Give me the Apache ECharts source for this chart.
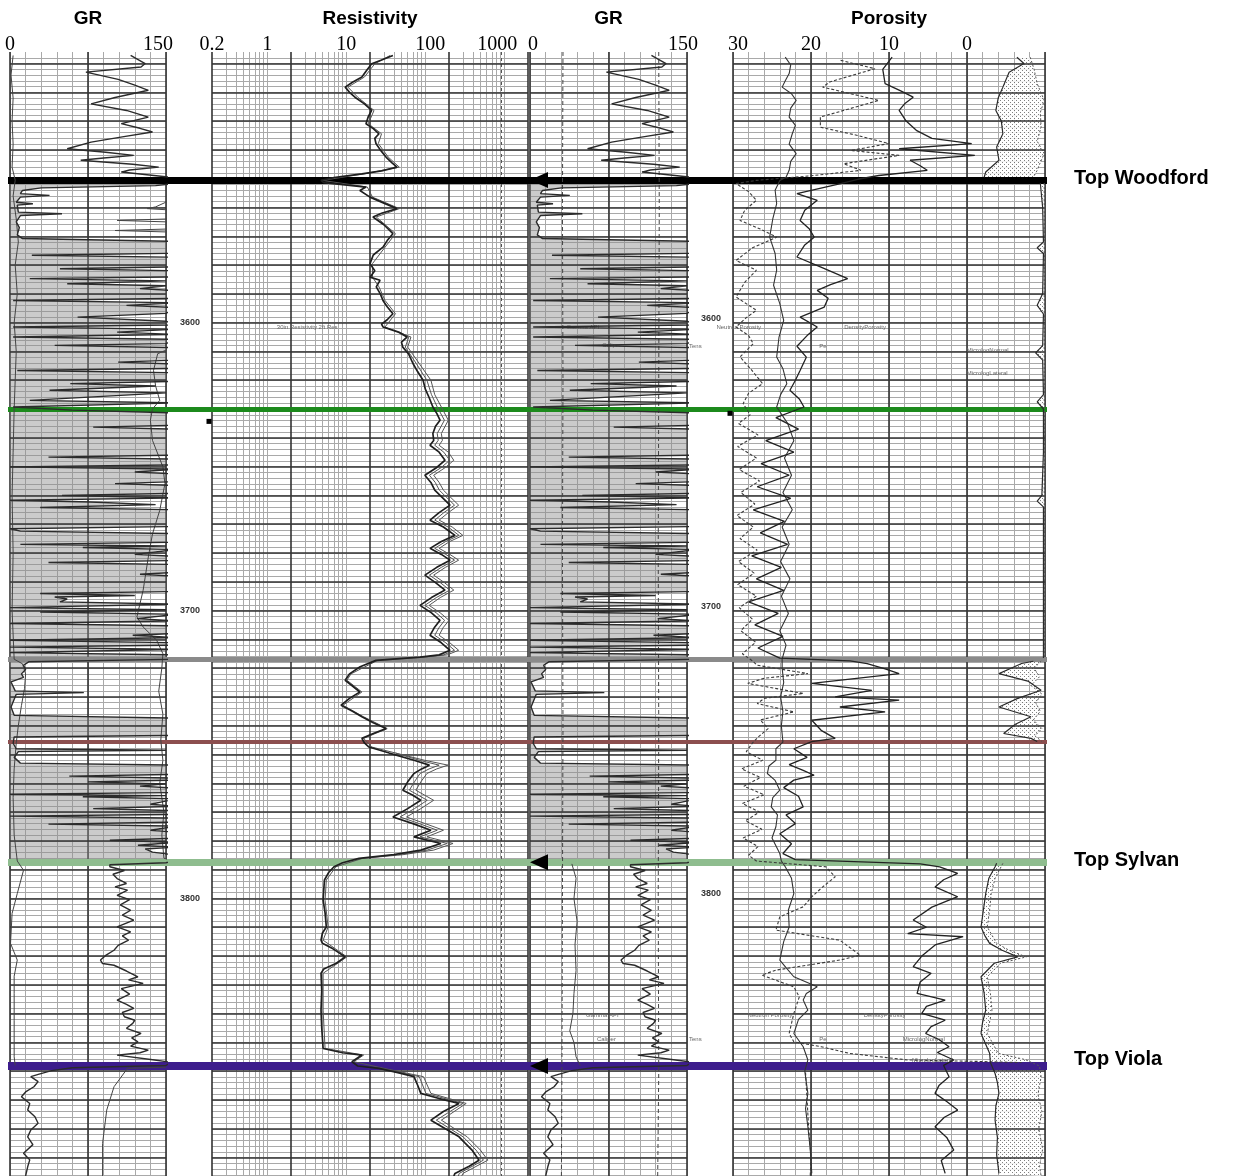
<!DOCTYPE html>
<html><head><meta charset="utf-8"><title>Well log</title>
<script src="https://cdn.jsdelivr.net/npm/echarts@6.0.0/dist/echarts.min.js"></script>
<style>html,body{margin:0;padding:0;background:#fff;}#chart{width:1238px;height:1176px;}</style>
</head><body><div id="chart"></div>
<script>
// ================= DATA =================
const trackTitles = ['GR', 'Resistivity', 'GR', 'Porosity'];
const grTickLabels = [0, 150];
const resTickLabels = [0.2, 1, 10, 100, 1000];
const porTickLabels = [30, 20, 10, 0];
const depthTickLabels = [3600, 3700, 3800];
const depthRange = [3506, 3896.4];

const topNames = ['Top Woodford', 'S1 base', 'S2 base', 'S3 base', 'Top Sylvan', 'Top Viola'];
const topDepths = [3550.5, 3630.1, 3716.9, 3745.7, 3787.4, 3858.2];
const topLabelled = [true, false, false, false, true, true];
const zoneNames = ['S1', 'S2', 'S3', 'S4'];
const zoneDepths = [3588.8, 3663.4, 3727.0, 3763.1];
// depth-track marker squares: [track, depth]
const depthMarkers = [[1, 3634.3], [3, 3631.5]];

// [depth ft, GR API] - gamma ray (same log shown in track 1 and track 3)
const gr = [[3507.2,116],[3508.8,124],[3510.0,130],[3511.2,126],[3513.0,73],[3515.5,104],[3517.5,120],[3519.3,133],[3521.8,101],[3524.0,78],[3526.3,112],[3528.6,133],[3530.9,107],[3532.5,125],[3533.8,137],[3535.5,108],[3537.3,78],[3539.6,55],[3540.8,92],[3541.9,119],[3542.8,90],[3543.6,68],[3545.0,118],[3546.0,143],[3547.0,115],[3547.7,107],[3549.4,152],[3550.4,160],
[3551.6,160],[3552.4,140],[3553.2,30],[3554.1,12],[3555.2,10],[3555.8,38],[3556.4,10],[3558.2,6],[3558.7,22],[3559.2,7],[3561.6,8],[3562.2,50],[3562.8,10],[3565.0,6],[3567.0,9],[3569.5,7],[3570.8,12],[3571.8,160],
[3575.9,160],[3576.6,21],[3577.3,160],[3580.6,160],[3581.3,48],[3582.0,160],[3584.1,158],[3584.7,19],[3585.5,150],[3586.5,55],[3587.2,150],[3588.2,125],[3588.9,160],[3591.6,160],[3592.3,3],[3593.1,160],[3594.0,112],[3594.8,160],[3596.8,150],[3598.1,65],[3599.5,150],[3600.8,160],[3601.5,3],[3602.3,160],[3603.3,103],[3604.1,160],[3605.0,3],[3605.8,160],[3607.3,150],[3607.9,43],[3608.7,160],[3613.0,160],[3613.7,104],[3614.4,160],[3615.9,160],[3616.6,7],[3617.4,160],[3620.4,160],[3621.2,58],[3622.0,140],[3623.5,38],[3624.4,150],[3627.0,19],[3627.9,160],[3629.3,3],[3630.4,60],[3631.4,160],
[3635.6,160],[3636.3,80],[3637.0,160],[3646.0,160],[3646.7,37],[3647.4,160],[3649.4,160],[3650.1,0],[3650.9,160],[3651.9,120],[3652.6,160],[3655.2,160],[3655.9,101],[3656.6,160],[3659.3,160],[3660.0,50],[3660.9,160],[3661.7,0],[3662.3,77],[3663.2,140],[3664.2,29],[3665.0,160],[3670.8,160],[3671.6,0],[3672.4,10],[3673.3,160],[3676.3,160],[3677.0,10],[3677.6,150],[3678.1,70],[3678.8,160],[3680.5,120],[3681.2,160],[3682.6,160],[3683.3,37],[3684.0,160],[3686.7,160],[3687.4,125],[3688.1,160],[3693.4,160],[3694.1,29],[3694.8,120],[3695.3,43],[3696.0,55],[3697.0,48],[3697.8,160],[3698.3,160],[3699.0,0],[3699.7,150],[3700.5,29],[3701.3,160],[3702.8,122],[3703.6,160],[3704.5,0],[3705.3,160],[3707.9,160],[3708.6,118],[3709.4,160],[3710.3,0],[3711.2,160],[3712.0,160],[3712.7,0],[3713.5,160],[3714.0,160],[3714.6,0],[3715.4,160],[3716.9,160],
[3717.3,160],[3717.8,18],[3719.0,13],[3720.5,15],[3722.0,11],[3723.2,13],[3724.8,1],[3727.9,5],[3728.5,71],[3729.1,6],[3733.5,1],[3736.4,4],[3737.4,160],[3743.4,160],[3743.9,4],[3746.1,3],[3748.0,6],[3748.5,150],[3749.0,8],[3751.0,4],[3753.0,10],[3753.7,160],[3756.9,160],[3757.5,57],[3758.2,160],[3758.9,160],[3759.5,75],[3760.2,150],[3761.0,125],[3761.7,160],[3763.2,160],[3763.8,0],[3764.3,150],[3764.7,70],[3765.4,160],[3767.3,135],[3768.0,160],[3768.8,80],[3769.5,160],[3770.8,160],[3771.4,0],[3772.1,160],[3773.5,160],[3774.2,37],[3774.9,160],[3776.3,135],[3777.0,160],[3779.1,160],[3779.8,96],[3780.5,160],[3781.5,123],[3782.2,160],[3782.8,130],[3783.9,137],[3785.0,160],[3786.8,160],
[3787.6,150],[3788.3,96],[3789.0,96],[3790.3,110],[3791.6,99],[3793.1,103],[3794.8,112],[3796.0,101],[3797.1,113],[3798.9,103],[3800.4,115],[3802.2,106],[3804.1,116],[3805.8,108],[3807.5,119],[3809.9,103],[3811.6,116],[3813.0,108],[3814.5,114],[3816.3,104],[3818.0,100],[3819.8,92],[3821.4,87],[3822.6,89],[3823.2,100],[3825.2,112],[3827.2,123],[3828.3,114],[3829.5,128],[3831.3,107],[3833.2,115],[3835.3,103],[3836.8,112],[3838.2,119],[3839.6,108],[3841.1,110],[3842.3,120],[3843.4,118],[3845.1,112],[3846.9,126],[3848.4,117],[3849.8,123],[3851.3,116],[3852.7,133],[3853.6,125],[3854.4,103],[3856.1,139],[3856.9,155],[3858.0,150],[3858.8,60],[3859.8,40],[3861.0,28],[3861.9,20],[3863.6,27],[3865.4,23],[3867.2,15],[3868.9,11],[3871.2,19],[3873.5,17],[3875.8,24],[3878.1,27],[3880.4,20],[3882.8,17],[3885.5,22],[3888.5,13],[3890.8,19],[3893.2,17],[3896.4,15]];

// track 1 caliper and tension (GR scale units)
const cal1 = [[3507.2,3],[3514,1],[3522,3],[3530,2],[3538,3],[3546,2],[3550.5,5],[3556,3],[3564,6],[3572,8],[3580,5],[3590,7],[3600,4],[3610,6],[3620,5],[3630,4],[3645,3],[3660,2],[3680,3],[3700,2],[3716.9,4],[3718.5,12],[3722,15],[3727,14],[3733,11],[3740,8],[3746,6],[3755,4],[3765,3],[3778,4],[3787,7],[3790.2,13],[3798.3,7],[3805.2,2],[3815.6,0.5],[3821.4,7],[3827,4],[3833,4],[3842.3,4],[3855,4],[3858,5]];
const ten1 = [[3556.5,160],[3559.8,140],[3560.4,132],[3561.0,160],[3563.9,160],[3564.5,103],[3565.1,160],[3567.4,160],[3568.0,101],[3568.6,160],null,[3608,160],[3610.8,142],[3616.6,138],[3622,140],[3627,144],[3630,137],[3633.9,135],[3640.9,137],[3650.1,147],[3655.9,149],[3665.2,144],[3673.4,137],[3681.4,133],[3693.0,128],[3702.2,122],[3705.7,128],[3710.3,141],[3715.0,147],[3720,146],[3728,143],[3736,147],[3745,145],[3752,147],[3760,144],[3770,148],[3778,146],[3786,148],[3787.5,160],null,[3858.6,150],[3859.0,113],[3865.4,100],[3873.5,93],[3885.1,89],[3896.4,89]];
// track 3 caliper (dashed), tension (dashed), caliper solid
const cal3 = [[3506,31.5],[3560,31],[3620,31.5],[3680,31],[3740,31.5],[3800,31],[3860,30.5],[3896.4,30]];
const ten3 = [[3506,123],[3560,123.5],[3620,123],[3680,122.5],[3740,123],[3800,122.5],[3860,123],[3896.4,122]];
const cal3b = [[3788.0,40],[3793,44],[3800,42],[3808,45],[3816,43],[3825,44],[3833,42],[3840,41],[3846,38],[3850,42],[3855,44],[3858,48]];

// resistivity [depth, ohm.m]
const resDeep = [[3507.2,39],[3508.8,28],[3510.1,21],[3512.5,18],[3514.7,15.8],[3516.5,12],[3518.2,9.7],[3520,11],[3521.7,12.9],[3524,17],[3526.3,21],[3528.5,19],[3530.9,17.8],[3532.6,22],[3534.4,26],[3536,23],[3537.8,23.8],[3540,27],[3542.5,31.9],[3544.5,38],[3546.0,44],[3547.3,28],[3548.3,15.8],[3549.6,7],[3550.6,4.8],[3551.4,5.2],[3552.9,17.8],[3554.1,14.9],[3556.4,20],[3558.5,30],[3560.4,44],[3562,28],[3563.3,21.8],[3566,30],[3569.1,39],[3571.5,33],[3573.8,29.2],[3576.5,22],[3579.5,20],[3582,23],[3584.2,20],[3585.3,26.8],[3587.6,24],[3590,27],[3592.3,29.2],[3594.5,33],[3596.9,39],[3599,33],[3600.5,28],[3601.5,29.2],[3603.2,45],[3605.0,58.8],[3606.8,50],[3608.5,52],[3611,62],[3614.2,70],[3617,80],[3620.0,94],[3623,100],[3626,112],[3629.3,125],[3631.5,140],[3633.9,154],[3636,135],[3638.5,125],
[3640.9,128],[3642.6,115],[3645,150],[3647.8,178],[3650.3,140],[3653.0,99],[3655.5,118],[3658.2,132],[3660.8,165],[3663.4,206],[3666,150],[3668.6,115],[3671,170],[3673.9,238],[3676,160],[3678.4,115],[3680.5,160],[3682.5,206],[3685,140],[3687.7,99],[3690.3,135],[3692.9,178],[3695.5,120],[3698.2,86],[3700.8,120],[3703.4,154],[3706,130],[3708.6,115],[3711.2,160],[3713.8,206],[3715.4,150],[3716.2,86],
[3717.3,23.8],[3719.5,15],[3722,11],[3724.2,9.7],[3726.2,12],[3728.3,14.9],[3730.5,11],[3732.9,8.6],[3735,12],[3736.9,15.8],[3739,22],[3741.0,31.9],[3742.7,22],[3744.4,15.8],[3746.0,17],[3747.4,19.4],[3749.5,35],[3752.0,72],[3753.7,113],[3755,90],[3756.6,72],[3759.5,60],[3762.4,52],[3764,68],[3765.9,88],[3768.8,60],[3771.7,39],[3774,70],[3776.3,118],[3778.6,72],[3780.9,158],[3783.2,88],[3784.8,40],[3786.1,14.5],
[3787.6,9],[3789.0,7.0],[3791,6],[3793.6,5.3],[3797,5.2],[3800.6,5.1],[3805,5.4],[3809.9,5.6],[3812,5.0],[3814.5,4.8],[3815.6,5.0],[3817.5,6.8],[3820.3,9.7],[3822.5,7.5],[3824.5,5.2],[3826.0,4.8],[3832,4.9],[3838.8,4.8],[3845,4.9],[3852.1,5.1],[3853.6,9],[3854.4,15.8],[3856.7,11.8],[3858.2,14],[3859.0,26],[3860.5,45],[3861.9,72],[3864.8,80],[3867.7,88],[3869.5,150],[3871.2,268],[3874,170],[3877.0,118],[3880,180],[3882.8,268],[3885,320],[3887.4,391],[3890.9,480],[3893,360],[3895.5,238],[3896.4,230]];
const resShal = [[3507.2,36],[3510.1,23],[3514.7,17],[3518.2,10.5],[3521.7,14],[3526.3,22.5],[3530.9,19],[3534.4,28],[3537.8,25.5],[3542.5,34],[3546.0,47],[3548.3,17],[3550.6,5.0],[3552.9,18.5],[3556.4,21.5],[3560.4,47],[3563.3,24],[3569.1,42],[3573.8,31],[3579.5,21.5],[3584.2,21.5],[3587.6,26],[3592.3,31],[3596.9,42],[3601.5,31],[3605.0,66],[3608.5,60],[3614.2,84],[3620.0,118],[3625,132],[3629.3,160],[3633.9,196],[3638.5,160],[3640.9,165],[3642.6,150],[3645,196],[3647.8,230],[3650.3,180],[3653.0,128],[3655.5,150],[3658.2,170],[3660.8,212],[3663.4,265],[3666,196],[3668.6,150],[3671,220],[3673.9,300],[3676,205],[3678.4,150],[3680.5,205],[3682.5,265],[3685,180],[3687.7,128],[3690.3,175],[3692.9,230],[3695.5,155],[3698.2,112],[3700.8,155],[3703.4,200],[3706,168],[3708.6,150],[3711.2,205],[3713.8,265],[3715.4,190],[3716.2,95],[3717.3,25],[3722,11.5],[3724.2,10.2],[3728.3,15.8],[3732.9,9.1],[3736.9,16.6],[3741.0,33],[3744.4,16.6],[3747.4,21],[3750,50],[3752.0,98],[3753.7,194],[3755,140],[3756.6,105],[3759.5,88],[3762.4,76],[3765.9,128],[3768.8,88],[3771.7,58],[3774,100],[3776.3,170],[3778.6,105],[3780.9,225],[3783.2,128],[3784.8,52],[3786.1,16],[3789.0,7.4],[3793.6,5.6],[3800.6,5.4],[3809.9,5.9],[3814.5,5.1],[3820.3,10.2],[3826.0,5.1],[3838.8,5.1],[3852.1,5.4],[3854.4,16.6],[3856.7,12.5],[3859.0,30],[3861.9,95],[3867.7,118],[3871.2,330],[3877.0,160],[3882.8,340],[3887.4,500],[3890.9,620],[3895.5,300],[3896.4,290]];
const resMed = [[3603.2,47],[3605.0,62],[3608.5,56],[3614.2,77],[3620.0,105],[3625,120],[3629.3,142],[3633.9,175],[3638.5,142],[3640.9,146],[3642.6,132],[3645,172],[3647.8,204],[3650.3,160],[3653.0,113],[3655.5,134],[3658.2,151],[3660.8,188],[3663.4,235],[3666,172],[3668.6,132],[3671,195],[3673.9,268],[3676,182],[3678.4,132],[3680.5,182],[3682.5,235],[3685,160],[3687.7,113],[3690.3,155],[3692.9,204],[3695.5,138],[3698.2,99],[3700.8,138],[3703.4,176],[3706,149],[3708.6,132],[3711.2,182],[3713.8,235],[3715.4,170],[3716.2,90],null,[3749.5,42],[3752.0,84],[3753.7,150],[3755,112],[3756.6,86],[3759.5,73],[3762.4,63],[3765.9,106],[3768.8,73],[3771.7,48],[3774,84],[3776.3,142],[3778.6,86],[3780.9,190],[3783.2,106],[3784.8,46],null,[3859.0,28],[3861.9,84],[3867.7,102],[3871.2,300],[3877.0,138],[3882.8,302],[3887.4,440],[3890.9,545],[3895.5,270],[3896.4,262]];

// porosity track [depth, porosity %]
const nphi = [[3507.8,23.3],[3510.5,22.6],[3513.5,22.8],[3516,23.3],[3518.2,23.7],[3520.5,22.5],[3522.8,21.9],[3525.5,22.6],[3528.6,22.8],[3531.5,22.0],[3534.4,22.4],[3538,22.8],[3541.3,21.9],[3544,22.6],[3547.1,22.8],[3549.5,23.2],[3550.6,24.0],[3554,24.6],[3558.7,24.4],[3564,24.9],[3570.3,25.3],[3576,24.6],[3581.8,24.4],[3587,24.8],[3593.4,24.0],[3599.2,23.5],[3605,24.1],[3611.9,24.4],[3616,23.6],[3621.2,23.1],[3625,23.9],[3629.3,24.4],[3635,23.0],[3641,22.2],[3647,23.4],[3653,22.5],[3659,23.6],[3665,22.4],[3671,23.7],[3677,22.8],[3683,23.9],[3689,22.7],[3695,23.8],[3701,22.9],[3707,24.0],[3712,23.2],[3716.9,23.7],[3720,23.7],[3725,23.5],[3730,23.9],[3735,23.6],[3740,23.8],[3745.7,23.6],[3748,24.5],[3752.0,24.5],[3754,25.4],[3756.6,25.6],[3759,24.6],[3762.4,24.0],[3765,24.9],[3768.2,25.1],[3771,24.3],[3775.1,24.5],[3779,25.0],[3784.4,24.0],[3787,23.8],[3789.0,23.3],[3793,22.5],[3798.3,22.2],[3804,22.9],[3809.9,22.8],[3815,23.5],[3821.4,24.0],[3824,23.2],[3827.2,22.2],[3830.7,19.2],[3833,20.6],[3835.3,21.0],[3838.8,20.4],[3842,21.6],[3846.9,22.2],[3851.5,21.0],[3856.1,20.4],[3860,20.8],[3867.7,20.4],[3873,20.7],[3879.3,20.4],[3887,20.1],[3895.5,19.9]];
const pe = [[3508.9,16.2],[3511.8,11.8],[3516.4,17.6],[3518.2,18.5],[3522.8,11.3],[3528.6,18.8],[3532.1,18.8],[3535,14],[3537.8,10.0],[3540.2,14.9],[3541.9,8.7],[3544.8,15.8],[3547.1,13.6],[3549.0,20.0],[3550.6,27],[3551.7,29.6],[3554.5,28.0],[3557.5,27.0],[3561,28.5],[3564.5,29.1],[3567.5,26.5],[3570.3,24.4],[3574,27.5],[3578.4,29.6],[3581.8,27.0],[3586,28.5],[3591.1,29.6],[3595.7,27.0],[3598.5,28.4],[3601.5,29.6],[3604.5,28.0],[3607.3,27.4],[3611.9,29.1],[3616.5,27.6],[3621.2,26.2],[3624.5,28.0],[3628.1,28.7],[3632,27.8],[3635,29.3],[3639,26.8],[3643,29.4],[3647,27.0],[3651,29.2],[3655,26.6],[3659,29.0],[3663,27.2],[3667,29.5],[3671,27.4],[3675,29.1],[3679,26.9],[3683,29.3],[3687,27.3],[3691,29.4],[3695,27.0],[3699,29.2],[3703,27.5],[3707,29.0],[3711,27.1],[3715,28.8],[3717.5,27.5],[3719.0,26.9],[3721.9,20.4],[3723.5,26],[3725.3,28.1],[3728.8,21.0],[3730.5,26],[3732.3,26.9],[3735.2,22.2],[3738,26.5],[3741,25.5],[3744,26.8],[3746,27.5],[3749,28.3],[3752,26.2],[3755,28.9],[3758,26.5],[3761,28.6],[3764,26.0],[3767,28.8],[3770,26.6],[3773,28.4],[3776,26.3],[3779,28.7],[3782,26.8],[3785,28.0],[3787,27.0],[3789.0,18.1],[3792.5,16.9],[3796,18.5],[3799.4,19.9],[3802.9,21.0],[3806.4,24.0],[3811.0,24.5],[3814.5,16.3],[3819.7,13.7],[3821.4,16.3],[3824.9,24.5],[3826.6,26.3],[3830.7,22.2],[3834.2,21.5],[3839.9,22.2],[3846.9,22.8],[3849.8,22.2],[3851.5,18.7],[3853.8,15.1],[3856.1,7.6],[3856.6,-1.3],[3857.0,-7.0],null,[3860.5,20.7],[3870,20.5],[3880,20.3],[3890,20.0],[3896.4,20.1]];
const dphi = [[3507.8,9.6],[3512,10.8],[3517.0,10.5],[3519.5,8.5],[3521.7,6.9],[3524,8.0],[3526.3,8.7],[3530,7.8],[3533.2,6.5],[3536,4.5],[3537.8,-0.6],[3539.6,8.7],[3541.9,-1.0],[3543.6,7.3],[3545.5,6.0],[3547.1,5.1],[3548.9,11.3],[3550.2,14],[3551.7,16.2],[3555.2,21.8],[3557.5,19.2],[3561,20.8],[3564.5,21.4],[3567.5,20.2],[3570.3,19.6],[3573,20.8],[3577.2,21.8],[3581,18.5],[3584.7,15.3],[3586.8,17.5],[3588.8,19.2],[3591.5,17.8],[3594.6,18.3],[3596.5,20.0],[3598.1,21.4],[3601.5,19.2],[3604.5,20.5],[3608.2,21.8],[3612,20.6],[3616.6,21.4],[3620,22.0],[3623.5,22.7],[3626.5,21.5],[3629.3,20.9],[3633,24.5],[3637,21.6],[3641,25.8],[3645,22.2],[3649,26.4],[3653,22.8],[3657,26.9],[3661,22.6],[3665,27.4],[3669,23.4],[3673,26.5],[3677,23.0],[3681,27.6],[3685,23.8],[3689,27.0],[3693,23.5],[3697,28.0],[3701,24.2],[3705,27.2],[3709,23.6],[3713,26.8],[3716.5,24.0],[3717.5,15],[3718.4,12.8],[3720.3,10.5],[3721.9,8.7],[3725.3,19.9],[3727.7,12.2],[3730.0,16.9],[3731.1,8.7],[3733.5,16.3],[3735.2,10.5],[3738.1,19.9],[3741.6,18.7],[3744.4,16.9],[3745.5,19.9],[3748,22.2],[3751,20.5],[3753.5,22.8],[3755.5,21.0],[3757.2,19.6],[3758.9,22.2],[3761.5,23.5],[3764.5,21.6],[3768.2,21.0],[3771,23.2],[3774,22.0],[3777.5,24.0],[3781,22.5],[3784.4,23.6],[3786.5,22.0],[3788.0,6],[3789.0,3.5],[3791.3,1.2],[3793.5,3.0],[3796.0,4.1],[3799.4,1.2],[3803,4.5],[3807.5,6.9],[3810,5.2],[3812.2,7.6],[3813.3,0.5],[3816,4.0],[3820,5.8],[3823.7,6.9],[3826.0,4.6],[3829,6.0],[3833.0,6.4],[3835.3,2.8],[3837.5,5.2],[3839.9,5.8],[3842.3,2.8],[3844.5,4.6],[3846.9,5.3],[3849,3.6],[3851.5,2.3],[3853.5,3.8],[3856.1,1.7],[3858,3.0],[3861.9,2.3],[3865,3.6],[3867.7,4.1],[3870.5,2.6],[3873.5,1.2],[3876,2.9],[3879.3,4.1],[3883,2.6],[3887.4,1.7],[3891,3.3],[3895.5,2.8]];
const micrologNormal = [[3507.8,-6.4],[3510,-7.3],[3513,-5.4],[3518.2,-4.6],[3522,-4.0],[3526.3,-3.7],[3530,-4.4],[3534.4,-4.6],[3539,-3.8],[3543.6,-4.1],[3547.7,-2.4],[3549.5,-2.2],null,[3551.5,-9.4],[3560,-9.7],[3572,-9.8],[3574,-9.0],[3576,-9.8],[3590,-9.7],[3594,-9.0],[3597,-9.8],[3608,-9.7],[3610.5,-8.8],[3613,-9.7],[3625,-9.8],[3627.5,-9.0],[3630,-9.8],[3645,-9.8],[3660,-9.6],[3662,-9.0],[3664,-9.8],[3690,-9.8],[3716.5,-9.8],null,[3717.6,-8.5],[3718.4,-7.0],[3720.2,-5.5],[3721.9,-4.1],[3724.5,-7.8],[3727.7,-9.5],[3730.5,-6.5],[3733.5,-4.1],[3736.9,-8.2],[3739.5,-6.2],[3742.7,-4.7],[3744.4,-8.2],[3745.5,-9.0],null,[3787.8,-3.8],[3789.0,-3.6],[3793,-2.8],[3798.3,-2.4],[3804,-2.1],[3809.9,-1.8],[3813,-2.3],[3815.6,-2.9],[3818,-4.5],[3820.3,-6.5],[3822.5,-3.5],[3827.2,-1.8],[3833,-2.2],[3838.8,-2.4],[3843,-2.0],[3846.9,-1.8],[3850,-2.3],[3853.8,-2.9],[3857,-3.0],[3860.8,-3.6],[3864,-3.9],[3867.7,-4.1],[3872,-3.7],[3877.0,-3.6],[3883,-3.9],[3889,-3.8],[3895.5,-4.1]];
const micrologLateral = [[3507.8,-8.1],[3512,-8.6],[3517.0,-9.0],[3522.8,-9.9],[3527,-9.4],[3532,-9.5],[3537,-9.0],[3541.3,-9.9],[3545,-9.3],[3547.1,-9.0],[3549.5,-8.5],null,[3551.5,-9.9],[3716.5,-9.9],null,[3717.6,-9.5],[3720,-8.6],[3723,-9.3],[3726,-8.2],[3729,-9.6],[3732,-8.8],[3735,-9.4],[3738,-8.5],[3741,-9.6],[3743.5,-8.7],[3745.5,-9.6],null,[3787.8,-4.6],[3793,-3.6],[3798.3,-3.1],[3804,-2.9],[3809.9,-2.6],[3815.6,-3.8],[3818,-5.4],[3820.3,-7.6],[3822.5,-4.3],[3827.2,-2.6],[3833,-3.0],[3838.8,-3.2],[3846.9,-2.6],[3853.8,-4.0],[3856,-7.5],[3858.2,-9.3],[3862,-9.5],[3868,-9.1],[3874,-9.6],[3880,-9.2],[3887,-9.7],[3893,-9.3],[3896.4,-9.5]];

// curve annotations: text, track index, depth, anchor value, side of anchor the text sits on
const annoText  = ['30in Resistivity 2ft Res','Gamma API','Caliper','Tens','Neutron Porosity','DensityPorosity','Pe','MicrologNormal','MicrologLateral','Gamma API','Caliper','Tens','Neutron Porosity','DensityPorosity','Pe','MicrologNormal','MicrologLateral'];
const annoTrack = [1,2,2,2,3,3,3,3,3,2,2,2,3,3,3,3,3];
const annoDepth = [3601.6,3601.6,3607.9,3608.2,3601.6,3601.6,3608.2,3609.6,3617.6,3840.5,3848.8,3848.8,3840.5,3840.5,3848.8,3848.8,3856.1];
const annoValue = [1.25,33,67,150,26.4,16.0,19.2,0.3,0.3,51.6,62,150,22.4,13.5,19.2,8.5,7.3];
const annoSide  = ['right','right','right','right','left','right','right','right','right','right','right','right','left','right','right','right','right'];

// ================= STYLE / LAYOUT =================
const SANS = 'Liberation Sans', SERIF = 'Liberation Serif';
const gridBoxes = [[10,156],[212,316],[530,157],[733,312],[8,1039]];
const topStyle = [{c:'#000000',w:7},{c:'#1c8a1c',w:5},{c:'#8a8a8a',w:5},{c:'#8c4f4f',w:4},{c:'#8fbd8f',w:7},{c:'#3d1d8c',w:8}];
const minorGrid = '#a9a9a9', majorGrid = '#333333';

const pat = document.createElement('canvas'); pat.width = 4; pat.height = 4;
(function(){ const c = pat.getContext('2d'); c.fillStyle = '#ffffff'; c.fillRect(0,0,4,4); c.fillStyle = '#6a6a6a'; c.fillRect(0,0,1,1); c.fillRect(2,2,1,1); })();

const majorDepths = [];
for (let d = 3510; d < depthRange[1]; d += 10) majorDepths.push(d);
const logGridValues = [];
for (let e = -1; e <= 3; e++) for (let k = 1; k <= 9; k++) { const v = +(k * Math.pow(10, e)).toPrecision(6); if (v >= 0.2 && v <= 2000) logGridValues.push(v); }
const isLogMajor = v => [0.2, 2, 20, 200, 2000].indexOf(v) >= 0;

const toXY = arr => arr.map(p => p ? [p[1], p[0]] : ['-', '-']);
function segments(arr) { const out = [[]]; arr.forEach(p => { if (p) out[out.length-1].push(p); else out.push([]); }); return out.filter(s => s.length); }

const grid = gridBoxes.map(b => ({left:b[0], width:b[1], top:52, bottom:0, containLabel:false, outerBoundsMode:'none'}));

function yAx(gi, showLabels, vAlign, margin) {
  return {type:'value', gridIndex:gi, inverse:true, min:depthRange[0], max:depthRange[1], interval:2,
    axisLine:{show:false}, axisTick:{show:false},
    axisLabel: showLabels ? {show:true, margin:margin, fontSize:9, fontWeight:'bold', fontFamily:SANS, color:'#333', verticalAlign:vAlign,
      formatter: v => depthTickLabels.indexOf(v) >= 0 ? String(v) : ''} : {show:false},
    splitLine: gi === 4 ? {show:false} : {show:true, showMinLine:false, lineStyle:{color:minorGrid, width:1}}
  };
}
const nameStyle = {fontFamily:SANS, fontWeight:'bold', fontSize:19, color:'#000'};
const numFont = {fontFamily:SERIF, fontSize:20, color:'#000'};
// rich styles nudge individual tick numbers to where the original print puts them
const numRich = {
  n:  Object.assign({}, numFont),
  l6: Object.assign({padding:[0,0,0,6]}, numFont),
  l10:Object.assign({padding:[0,0,0,10]}, numFont),
  r8: Object.assign({padding:[0,8,0,0]}, numFont),
  r14:Object.assign({padding:[0,14,0,0]}, numFont),
  r16:Object.assign({padding:[0,16,0,0]}, numFont)
};
function numLabel(fmt) { return Object.assign({show:true, margin:-3, rich:numRich, formatter:fmt}, numFont); }
function grAxes(gi, title, nudge) {
  return [
    {type:'value', gridIndex:gi, min:0, max:150, interval:15, position:'top', name:title, nameLocation:'middle', nameGap:24, nameTextStyle:nameStyle,
     axisLine:{show:false}, axisTick:{show:false},
     axisLabel:numLabel(v => grTickLabels.indexOf(v) >= 0 ? '{' + nudge[grTickLabels.indexOf(v)] + '|' + v + '}' : ''),
     splitLine:{show:true, lineStyle:{color:minorGrid, width:1}}},
    {type:'value', gridIndex:gi, min:0, max:150, interval:75, position:'bottom', axisLine:{show:false}, axisTick:{show:false}, axisLabel:{show:false},
     splitLine:{show:true, lineStyle:{color:majorGrid, width:1.6}}}
  ];
}
const resNudge = ['n', 'n', 'n', 'l10', 'r14'];
const porNudge = ['l10', 'n', 'n', 'n'];
const xAxis = [].concat(
  grAxes(0, trackTitles[0], ['n', 'r16']),
  [{type:'log', logBase:10, gridIndex:1, min:0.2, max:2000, position:'top', name:trackTitles[1], nameLocation:'middle', nameGap:24, nameTextStyle:nameStyle,
    axisLine:{show:false}, axisTick:{show:false}, splitLine:{show:false}, minorSplitLine:{show:false},
    axisLabel:numLabel(v => { const i = resTickLabels.findIndex(t => Math.abs(v - t) / t < 0.01); return i >= 0 ? '{' + resNudge[i] + '|' + resTickLabels[i] + '}' : ''; })}],
  grAxes(2, trackTitles[2], ['l6', 'r8']),
  [{type:'value', gridIndex:3, min:-10, max:30, interval:2, inverse:true, position:'top', name:trackTitles[3], nameLocation:'middle', nameGap:24, nameTextStyle:nameStyle,
    axisLine:{show:false}, axisTick:{show:false},
    axisLabel:numLabel(v => { const i = porTickLabels.indexOf(v); return i >= 0 ? '{' + porNudge[i] + '|' + v + '}' : ''; }),
    splitLine:{show:true, lineStyle:{color:minorGrid, width:1}}},
   {type:'value', gridIndex:3, min:-10, max:30, interval:10, inverse:true, position:'bottom', axisLine:{show:false}, axisTick:{show:false}, axisLabel:{show:false},
    splitLine:{show:true, lineStyle:{color:majorGrid, width:1.6}}},
   {type:'value', gridIndex:4, min:0, max:1, show:false}]
);
const yAxis = [yAx(0,false), yAx(1,true,'middle',12), yAx(2,false), yAx(3,true,'bottom',12), yAx(4,false)];
// x axis index for each track's main axis, and each track's left-edge value
const trackX = [0, 2, 3, 5];
const trackLeftValue = [0, 0.2, 0, 30];

function majorLines(ti) {
  return {type:'line', xAxisIndex:trackX[ti], yAxisIndex:ti, data:[], silent:true, z:3, animation:false,
    markLine:{silent:true, animation:false, symbol:['none','none'], label:{show:false},
      lineStyle:{color:majorGrid, width:1.6, type:'solid'}, data: majorDepths.map(d => ({yAxis:d}))}};
}
function curve(ti, arr, color, width, type, z) {
  return {type:'line', xAxisIndex:trackX[ti], yAxisIndex:ti, data:toXY(arr), showSymbol:false, symbol:'none', connectNulls:false,
    lineStyle:{color:color, width:width, type:type || 'solid'}, z:z || 5, silent:true, animation:false, clip:true};
}
function polySeries(ti, polys, style, z) {
  return {type:'custom', xAxisIndex:trackX[ti], yAxisIndex:ti, data:[[0, 3600]], silent:true, animation:false, clip:true, z:z,
    renderItem: (params, api) => ({type:'group', children: polys.map(pts => ({type:'polygon', shape:{points: pts.map(p => api.coord(p))}, style:style}))})};
}
function grFillPolys() {
  const a = topDepths[0], b = topDepths[4];
  const pts = gr.filter(p => p[0] >= a && p[0] <= b).map(p => [Math.min(p[1], 150), p[0]]);
  return [[[0, a]].concat(pts, [[0, b]])];
}
function micrologPolys() {
  const n = segments(micrologNormal), l = segments(micrologLateral), out = [];
  for (let i = 0; i < Math.min(n.length, l.length); i++) {
    out.push(n[i].map(p => [p[1], p[0]]).concat(l[i].slice().reverse().map(p => [p[1], p[0]])));
  }
  return out;
}
function annotations(ti) {
  const data = [];
  annoText.forEach((t, i) => { if (annoTrack[i] === ti) data.push({name:t, coord:[annoValue[i], annoDepth[i]],
    label:{position:annoSide[i], distance: annoSide[i] === 'left' ? 0 : 2}}); });
  return {type:'line', xAxisIndex:trackX[ti], yAxisIndex:ti, data:[], silent:true, z:8, animation:false,
    markPoint:{silent:true, animation:false, symbol:'circle', symbolSize:0,
      label:{show:true, position:'right', distance:0, formatter:'{b}', fontSize:6, fontFamily:SANS, color:'#666'}, data:data}};
}
function markerSquares(ti) {
  return {type:'line', xAxisIndex:trackX[ti], yAxisIndex:ti, data:[], silent:true, z:9, animation:false,
    markPoint:{silent:true, animation:false, symbol:'rect', symbolSize:5, symbolOffset:[-3,0], itemStyle:{color:'#000'}, label:{show:false},
      data: depthMarkers.filter(m => m[0] === ti).map(m => ({coord:[trackLeftValue[ti], m[1]]}))}};
}

const series = [
  // ---- track 1 GR ----
  polySeries(0, grFillPolys(), {fill:'rgba(140,140,140,0.45)', stroke:'none'}, 1),
  majorLines(0),
  curve(0, cal1, '#444', 1),
  curve(0, ten1, '#444', 1),
  curve(0, gr, '#2b2b2b', 1.4),
  // ---- track 2 Resistivity ----
  {type:'line', xAxisIndex:2, yAxisIndex:1, data:[], silent:true, z:2, animation:false,
   markLine:{silent:true, animation:false, symbol:['none','none'], label:{show:false},
     data: logGridValues.map(v => ({xAxis:v, lineStyle:{color: isLogMajor(v) ? majorGrid : minorGrid, width: isLogMajor(v) ? 1.6 : 1, type:'solid'}}))
       .concat([{xAxis:930, lineStyle:{color:'#555', width:1, type:[3,3]}}])}},
  majorLines(1),
  curve(1, resShal, '#555', 1),
  curve(1, resMed, '#555', 1),
  curve(1, resDeep, '#1f1f1f', 1.7),
  annotations(1),
  markerSquares(1),
  // ---- track 3 GR ----
  polySeries(2, grFillPolys(), {fill:'rgba(140,140,140,0.45)', stroke:'none'}, 1),
  majorLines(2),
  curve(2, cal3, '#444', 1, [4,3]),
  curve(2, ten3, '#444', 1, [4,3]),
  curve(2, cal3b, '#444', 1),
  curve(2, gr, '#2b2b2b', 1.4),
  annotations(2),
  {type:'line', xAxisIndex:3, yAxisIndex:2, data:[], silent:true, z:12, animation:false,
   markPoint:{silent:true, animation:false, symbol:'triangle', symbolSize:[16,18], symbolRotate:90, symbolOffset:[9,0], itemStyle:{color:'#000'}, label:{show:false},
     data:[0,4,5].map(i => ({coord:[0, topDepths[i]]}))}},
  // ---- track 4 Porosity ----
  polySeries(3, micrologPolys(), {fill:{image:pat, repeat:'repeat'}, stroke:'none', opacity:0.85}, 1),
  majorLines(3),
  curve(3, pe, '#3a3a3a', 1.1, [3,2]),
  curve(3, nphi, '#333', 1.1),
  curve(3, dphi, '#222', 1.3),
  curve(3, micrologLateral, '#555', 1, [2,2]),
  curve(3, micrologNormal, '#2a2a2a', 1.2),
  annotations(3),
  markerSquares(3),
  // ---- formation tops overlay ----
  {type:'line', xAxisIndex:7, yAxisIndex:4, data:[], silent:true, z:10, animation:false,
   markLine:{silent:true, animation:false, symbol:['none','none'],
     label:{show:true, position:'end', distance:27, formatter:'{b}', fontFamily:SANS, fontWeight:'bold', fontSize:20, color:'#000'},
     data: topDepths.map((d, i) => ({name:topNames[i], yAxis:d, lineStyle:{color:topStyle[i].c, width:topStyle[i].w, type:'solid', opacity:1},
              label:{show:topLabelled[i], offset: i === 5 ? [0,-7] : [0,-2]}}))
       .concat(zoneDepths.map((d, i) => ({name:zoneNames[i], yAxis:d, lineStyle:{opacity:0, width:0.1}, label:{show:true}})))}}
];

const chart = echarts.init(document.getElementById('chart'), null, {renderer:'canvas', width:1238, height:1176});
chart.setOption({
  animation:false, backgroundColor:'#ffffff',
  textStyle:{fontFamily:SANS},
  grid:grid, xAxis:xAxis, yAxis:yAxis, series:series
});
</script></body></html>
